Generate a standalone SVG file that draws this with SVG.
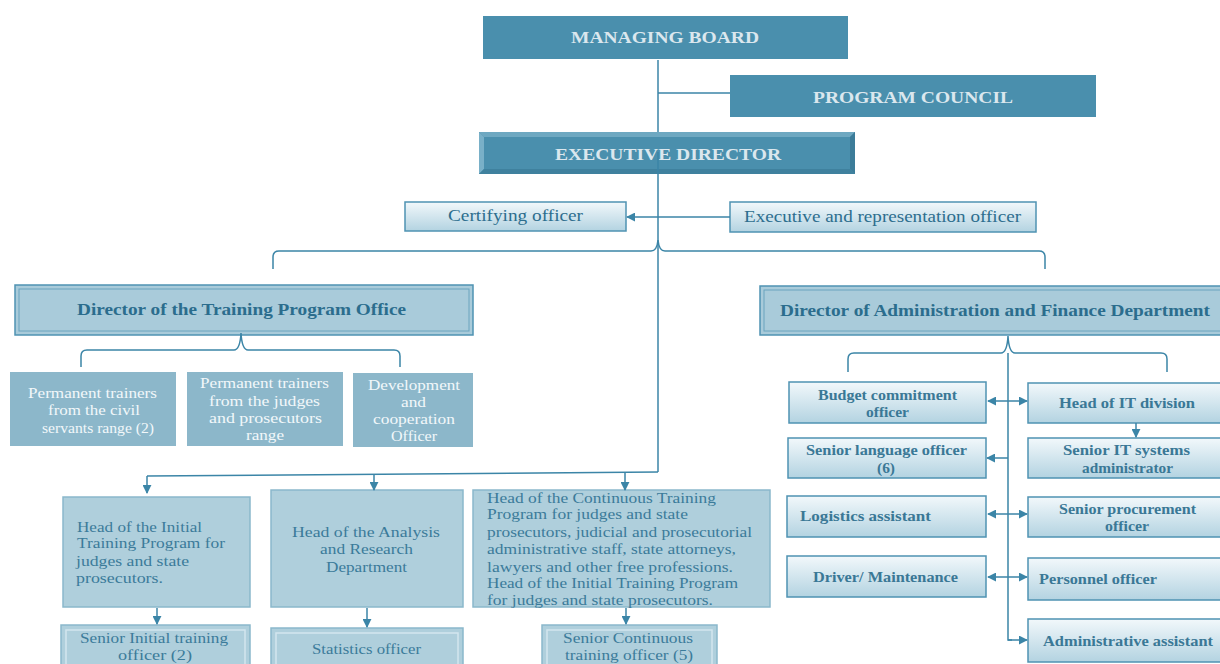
<svg xmlns="http://www.w3.org/2000/svg" width="1220" height="664" viewBox="0 0 1220 664">
<defs>
<linearGradient id="lg" x1="0" y1="0" x2="0" y2="1">
<stop offset="0" stop-color="#f2f8fb"/>
<stop offset="1" stop-color="#b3d3e1"/>
</linearGradient>
<marker id="ah" viewBox="0 0 10 10" refX="9" refY="5" markerWidth="9" markerHeight="9" markerUnits="userSpaceOnUse" orient="auto-start-reverse">
<path d="M0,0 L10,5 L0,10 z" fill="#3b85a7"/>
</marker>
<style>
.dk{fill:#4a8fad}
.dkt{font-family:"Liberation Serif",serif;font-weight:bold;font-size:17px;fill:#dbe7ee;text-anchor:middle}
.lt{fill:url(#lg);stroke:#4f93b2;stroke-width:1.5}
.ltt{font-family:"Liberation Serif",serif;font-size:16px;fill:#2d6e8e}
.rtt{font-family:"Liberation Serif",serif;font-weight:bold;font-size:14px;fill:#3a7896}
.dir{fill:#a9cbda;stroke:#4f93b2;stroke-width:1.5}
.dirin{fill:none;stroke:#6aa4be;stroke-width:1}
.dirt{font-family:"Liberation Serif",serif;font-weight:bold;font-size:16px;fill:#2b6d8d}
.md{fill:#8cb7ca}
.mdt{font-family:"Liberation Serif",serif;font-size:15px;fill:#f2f7fa}
.hd{fill:#afcfdc;stroke:#8ab8cb;stroke-width:1.5}
.hdin{fill:none;stroke:#d3e6ee;stroke-width:1.5}
.hdt{font-family:"Liberation Serif",serif;font-size:15px;fill:#3b7b9a}
.conn{stroke:#3b85a7;stroke-width:1.5;fill:none}
.arr{stroke:#3b85a7;stroke-width:1.5;fill:none;marker-end:url(#ah)}
.darr{stroke:#3b85a7;stroke-width:1.5;fill:none;marker-end:url(#ah);marker-start:url(#ah)}
</style>
</defs>
<rect width="1220" height="664" fill="#ffffff"/>

<g id="managing-board">
<rect class="dk" x="483" y="16" width="365" height="43"/>
<text class="dkt" x="665" y="43" textLength="188" lengthAdjust="spacingAndGlyphs">MANAGING BOARD</text>
</g>
<g id="program-council">
<rect class="dk" x="730" y="75" width="366" height="42"/>
<text class="dkt" x="913" y="103" textLength="200" lengthAdjust="spacingAndGlyphs">PROGRAM COUNCIL</text>
</g>
<g id="executive-director">
<rect class="dk" x="479" y="132" width="376" height="42"/>
<polygon points="479,132 855,132 850,137 484,137" fill="#6ea8c1"/>
<polygon points="479,132 484,137 484,169 479,174" fill="#79b0c8"/>
<polygon points="479,174 484,169 850,169 855,174" fill="#3f819e"/>
<polygon points="855,132 855,174 850,169 850,137" fill="#3c7c99"/>
<text class="dkt" x="668" y="160" textLength="226" lengthAdjust="spacingAndGlyphs">EXECUTIVE DIRECTOR</text>
</g>
<g id="certifying-officer">
<rect class="lt" x="405" y="202" width="221" height="29"/>
<text class="ltt" x="448" y="221" textLength="135" lengthAdjust="spacingAndGlyphs">Certifying  officer</text>
</g>
<g id="executive-representation-officer">
<rect class="lt" x="730" y="202" width="306" height="30"/>
<text class="ltt" x="744" y="222" textLength="277" lengthAdjust="spacingAndGlyphs">Executive and representation officer</text>
</g>

<g id="director-training">
<rect class="dir" x="15" y="285" width="458" height="50"/>
<rect class="dirin" x="19" y="289" width="450" height="42"/>
<text class="dirt" x="77" y="315" textLength="329" lengthAdjust="spacingAndGlyphs">Director of the Training Program Office</text>
</g>
<g id="trainers-civil">
<rect class="md" x="10" y="372" width="166" height="74"/>
<text class="mdt" x="28" y="398" textLength="129" lengthAdjust="spacingAndGlyphs">Permanent trainers</text>
<text class="mdt" x="48" y="415" textLength="92" lengthAdjust="spacingAndGlyphs">from  the civil</text>
<text class="mdt" x="42" y="433" textLength="112" lengthAdjust="spacingAndGlyphs">servants range (2)</text>
</g>
<g id="trainers-judges">
<rect class="md" x="187" y="372" width="156" height="74"/>
<text class="mdt" x="200" y="388" textLength="129" lengthAdjust="spacingAndGlyphs">Permanent trainers</text>
<text class="mdt" x="209" y="406" textLength="111" lengthAdjust="spacingAndGlyphs">from  the judges</text>
<text class="mdt" x="209" y="423" textLength="113" lengthAdjust="spacingAndGlyphs">and prosecutors</text>
<text class="mdt" x="246" y="440" textLength="38" lengthAdjust="spacingAndGlyphs">range</text>
</g>
<g id="development-officer">
<rect class="md" x="353" y="373" width="120" height="74"/>
<text class="mdt" x="368" y="390" textLength="92" lengthAdjust="spacingAndGlyphs">Development</text>
<text class="mdt" x="401" y="407" textLength="25" lengthAdjust="spacingAndGlyphs">and</text>
<text class="mdt" x="373" y="424" textLength="82" lengthAdjust="spacingAndGlyphs">cooperation</text>
<text class="mdt" x="391" y="441" textLength="46" lengthAdjust="spacingAndGlyphs">Officer</text>
</g>

<g id="head-initial">
<rect class="hd" x="63" y="497" width="187" height="110"/>
<text class="hdt" x="77" y="532" textLength="125" lengthAdjust="spacingAndGlyphs">Head  of the Initial</text>
<text class="hdt" x="77" y="548" textLength="148" lengthAdjust="spacingAndGlyphs">Training Program  for</text>
<text class="hdt" x="76" y="566" textLength="113" lengthAdjust="spacingAndGlyphs">judges and state</text>
<text class="hdt" x="76" y="583" textLength="87" lengthAdjust="spacingAndGlyphs">prosecutors.</text>
</g>
<g id="senior-initial">
<rect class="hd" x="61" y="625" width="189" height="48"/>
<rect class="hdin" x="66" y="630" width="179" height="38"/>
<text class="hdt" x="80" y="643" textLength="148" lengthAdjust="spacingAndGlyphs">Senior Initial  training</text>
<text class="hdt" x="118" y="660" textLength="74" lengthAdjust="spacingAndGlyphs">officer  (2)</text>
</g>
<g id="head-analysis">
<rect class="hd" x="271" y="490" width="192" height="117"/>
<text class="hdt" x="292" y="537" textLength="148" lengthAdjust="spacingAndGlyphs">Head of the Analysis</text>
<text class="hdt" x="320" y="554" textLength="93" lengthAdjust="spacingAndGlyphs">and Research</text>
<text class="hdt" x="326" y="572" textLength="81" lengthAdjust="spacingAndGlyphs">Department</text>
</g>
<g id="statistics-officer">
<rect class="hd" x="271" y="628" width="192" height="45"/>
<rect class="hdin" x="276" y="633" width="182" height="35"/>
<text class="hdt" x="312" y="654" textLength="109" lengthAdjust="spacingAndGlyphs">Statistics officer</text>
</g>
<g id="head-continuous">
<rect class="hd" x="473" y="490" width="297" height="117"/>
<text class="hdt" x="487" y="503" textLength="229" lengthAdjust="spacingAndGlyphs">Head  of the Continuous Training</text>
<text class="hdt" x="487" y="519" textLength="201" lengthAdjust="spacingAndGlyphs">Program  for judges and state</text>
<text class="hdt" x="487" y="537" textLength="265" lengthAdjust="spacingAndGlyphs">prosecutors, judicial  and prosecutorial</text>
<text class="hdt" x="487" y="554" textLength="249" lengthAdjust="spacingAndGlyphs">administrative  staff, state attorneys,</text>
<text class="hdt" x="487" y="572" textLength="246" lengthAdjust="spacingAndGlyphs">lawyers  and other free  professions.</text>
<text class="hdt" x="487" y="588" textLength="251" lengthAdjust="spacingAndGlyphs">Head  of the Initial  Training Program</text>
<text class="hdt" x="487" y="605" textLength="226" lengthAdjust="spacingAndGlyphs">for judges and state prosecutors.</text>
</g>
<g id="senior-continuous">
<rect class="hd" x="542" y="625" width="175" height="48"/>
<rect class="hdin" x="547" y="630" width="165" height="38"/>
<text class="hdt" x="563" y="643" textLength="130" lengthAdjust="spacingAndGlyphs">Senior Continuous</text>
<text class="hdt" x="565" y="660" textLength="128" lengthAdjust="spacingAndGlyphs">training  officer (5)</text>
</g>

<g id="director-admin">
<rect class="dir" x="760" y="286" width="470" height="49"/>
<rect class="dirin" x="764" y="290" width="470" height="41"/>
<text class="dirt" x="780" y="316" textLength="430" lengthAdjust="spacingAndGlyphs">Director of Administration and Finance Department</text>
</g>
<g id="budget-officer">
<rect class="lt" x="789" y="382" width="197" height="41"/>
<text class="rtt" x="818" y="400" textLength="139" lengthAdjust="spacingAndGlyphs">Budget commitment</text>
<text class="rtt" x="866" y="417" textLength="43" lengthAdjust="spacingAndGlyphs">officer</text>
</g>
<g id="head-it">
<rect class="lt" x="1028" y="383" width="200" height="40"/>
<text class="rtt" x="1059" y="408" textLength="136" lengthAdjust="spacingAndGlyphs">Head of IT  division</text>
</g>
<g id="senior-language">
<rect class="lt" x="788" y="438" width="198" height="40"/>
<text class="rtt" x="806" y="455" textLength="161" lengthAdjust="spacingAndGlyphs">Senior language officer</text>
<text class="rtt" x="877" y="473" textLength="18" lengthAdjust="spacingAndGlyphs">(6)</text>
</g>
<g id="senior-it">
<rect class="lt" x="1028" y="438" width="200" height="40"/>
<text class="rtt" x="1063" y="455" textLength="127" lengthAdjust="spacingAndGlyphs">Senior IT  systems</text>
<text class="rtt" x="1082" y="473" textLength="91" lengthAdjust="spacingAndGlyphs">administrator</text>
</g>
<g id="logistics-assistant">
<rect class="lt" x="787" y="496" width="199" height="41"/>
<text class="rtt" x="800" y="521" textLength="131" lengthAdjust="spacingAndGlyphs">Logistics assistant</text>
</g>
<g id="senior-procurement">
<rect class="lt" x="1028" y="497" width="200" height="40"/>
<text class="rtt" x="1059" y="514" textLength="137" lengthAdjust="spacingAndGlyphs">Senior procurement</text>
<text class="rtt" x="1105" y="531" textLength="44" lengthAdjust="spacingAndGlyphs">officer</text>
</g>
<g id="driver-maintenance">
<rect class="lt" x="787" y="556" width="199" height="41"/>
<text class="rtt" x="813" y="582" textLength="145" lengthAdjust="spacingAndGlyphs">Driver/  Maintenance</text>
</g>
<g id="personnel-officer">
<rect class="lt" x="1028" y="558" width="200" height="42"/>
<text class="rtt" x="1039" y="584" textLength="118" lengthAdjust="spacingAndGlyphs">Personnel officer</text>
</g>
<g id="administrative-assistant">
<rect class="lt" x="1028" y="619" width="200" height="43"/>
<text class="rtt" x="1043" y="646" textLength="170" lengthAdjust="spacingAndGlyphs">Administrative assistant</text>
</g>

<g id="connectors">
<path class="conn" d="M658,60 L658,132"/>
<path class="conn" d="M658,93 L730,93"/>
<path class="conn" d="M658,152 L658,472"/>
<path class="arr" d="M730,217 L627,217"/>
<path class="conn" d="M273,269 L273,257 Q273,251 279,251 L651,251 Q657,251 658,240 Q659,251 665,251 L1039,251 Q1045,251 1045,257 L1045,269"/>
<path class="conn" d="M81,367 L81,356 Q81,350 87,350 L234,350 Q240,350 241,333 Q242,350 248,350 L394,350 Q400,350 400,356 L400,367"/>
<path class="conn" d="M848,372 L848,359 Q848,353 854,353 L1001,353 Q1007,353 1008,336 Q1009,353 1015,353 L1161,353 Q1167,353 1167,359 L1167,372"/>
<path class="conn" d="M658,472 L147,476"/>
<path class="arr" d="M147,476 L147,493"/>
<path class="arr" d="M374,475 L374,490"/>
<path class="arr" d="M625,473 L625,490"/>
<path class="arr" d="M157,608 L157,624"/>
<path class="arr" d="M367,608 L367,627"/>
<path class="arr" d="M626,608 L626,624"/>
<path class="conn" d="M1008,353 L1008,640 L1012,640"/>
<path class="darr" d="M988,401 L1027,401"/>
<path class="arr" d="M1008,458 L987,458"/>
<path class="darr" d="M988,514 L1027,514"/>
<path class="darr" d="M988,577 L1027,577"/>
<path class="arr" d="M1008,640 L1027,640"/>
<path class="arr" d="M1136,423 L1136,437"/>
</g>
</svg>
